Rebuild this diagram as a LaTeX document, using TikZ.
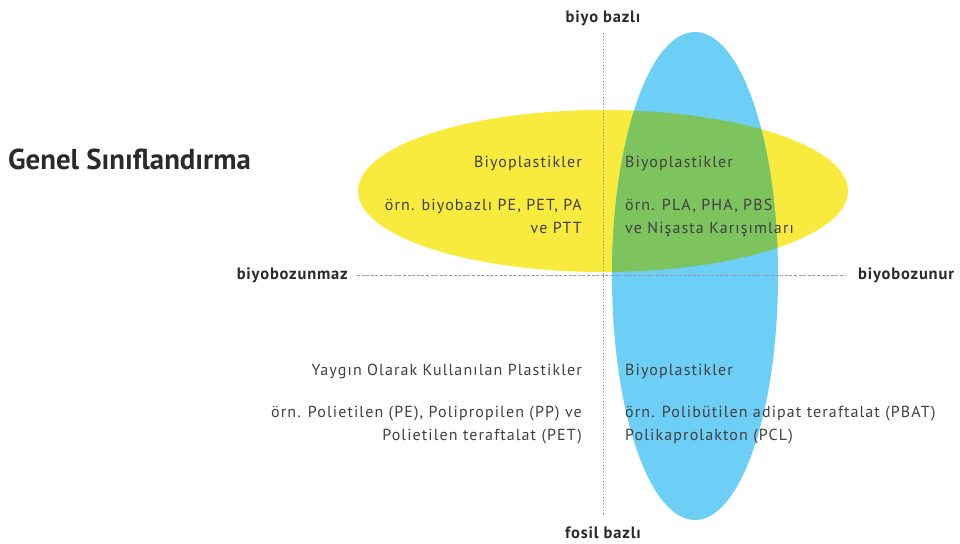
\documentclass[tikz,border=0pt]{standalone}
\usepackage{fontspec}
\setmainfont{PT Sans}
\newfontfamily\bodyfont[LetterSpace=7]{PT Sans}
\newfontfamily\lblfont[LetterSpace=5]{PT Sans}
\definecolor{yel}{HTML}{F8EB3E}
\definecolor{blu}{HTML}{6DCFF6}
\definecolor{grn}{HTML}{7DC35E}
\definecolor{txt}{HTML}{404040}
\definecolor{lbl}{HTML}{2A2A2A}
\begin{document}
\begin{tikzpicture}[x=1pt,y=-1pt,
  body/.style={font=\bodyfont\fontsize{16}{22}\selectfont, text=txt, inner sep=0pt},
  axislbl/.style={font=\lblfont\bfseries\fontsize{16.5}{18}\selectfont, text=lbl, inner sep=0pt},
  axisline/.style={draw=gray!80, line width=0.8pt, dash pattern=on 1.6pt off 1.6pt}]
\useasboundingbox (0,0) rectangle (960,543);
% ellipses
\fill[yel] (603,191) ellipse [x radius=245, y radius=81];
\fill[blu] (695,276) ellipse [x radius=83, y radius=244];
\begin{scope}
  \clip (603,191) ellipse [x radius=245, y radius=81];
  \fill[grn] (695,276) ellipse [x radius=83, y radius=244];
\end{scope}
% axes
\coordinate (vtop) at (603,33);
\coordinate (vbot) at (603,515);
\coordinate (hl) at (357,275);
\coordinate (hr) at (846,275);
\draw[axisline] (vtop) -- (vbot);
\draw[axisline, dash pattern=on 3pt off 1.6pt] (hl) -- (hr);
% axis labels
\node[axislbl, anchor=base] (top) at (603,23) {biyo bazlı};
\node[axislbl, anchor=base] (bot) at (603,538) {fosil bazlı};
\node[axislbl, anchor=base east] (left) at (348,279) {biyobozunmaz};
\node[axislbl, anchor=base west] (right) at (858,279) {biyobozunur};
% title
\node[font=\bfseries\fontsize{28.8}{32}\selectfont, text=lbl, inner sep=0pt, anchor=base west] (title) at (8,169) {Genel Sınıflandırma};
% quadrant texts
\node[body, anchor=base east] (q1a) at (582,167) {Biyoplastikler};
\node[body, anchor=base east] (q1b) at (582,210) {örn. biyobazlı PE, PET, PA};
\node[body, anchor=base east] (q1c) at (582,233) {ve PTT};
\node[body, anchor=base west] (q2a) at (625,167) {Biyoplastikler};
\node[body, anchor=base west] (q2b) at (625,210) {örn. PLA, PHA, PBS};
\node[body, anchor=base west] (q2c) at (625,233) {ve Nişasta Karışımları};
\node[body, anchor=base east] (q3a) at (582,375) {Yaygın Olarak Kullanılan Plastikler};
\node[body, anchor=base east] (q3b) at (582,417) {örn. Polietilen (PE), Polipropilen (PP) ve};
\node[body, anchor=base east] (q3c) at (582,440) {Polietilen teraftalat (PET)};
\node[body, anchor=base west] (q4a) at (625,375) {Biyoplastikler};
\node[body, anchor=base west] (q4b) at (625,417) {örn. Polibütilen adipat teraftalat (PBAT)};
\node[body, anchor=base west] (q4c) at (625,440) {Polikaprolakton (PCL)};
\end{tikzpicture}
\end{document}
